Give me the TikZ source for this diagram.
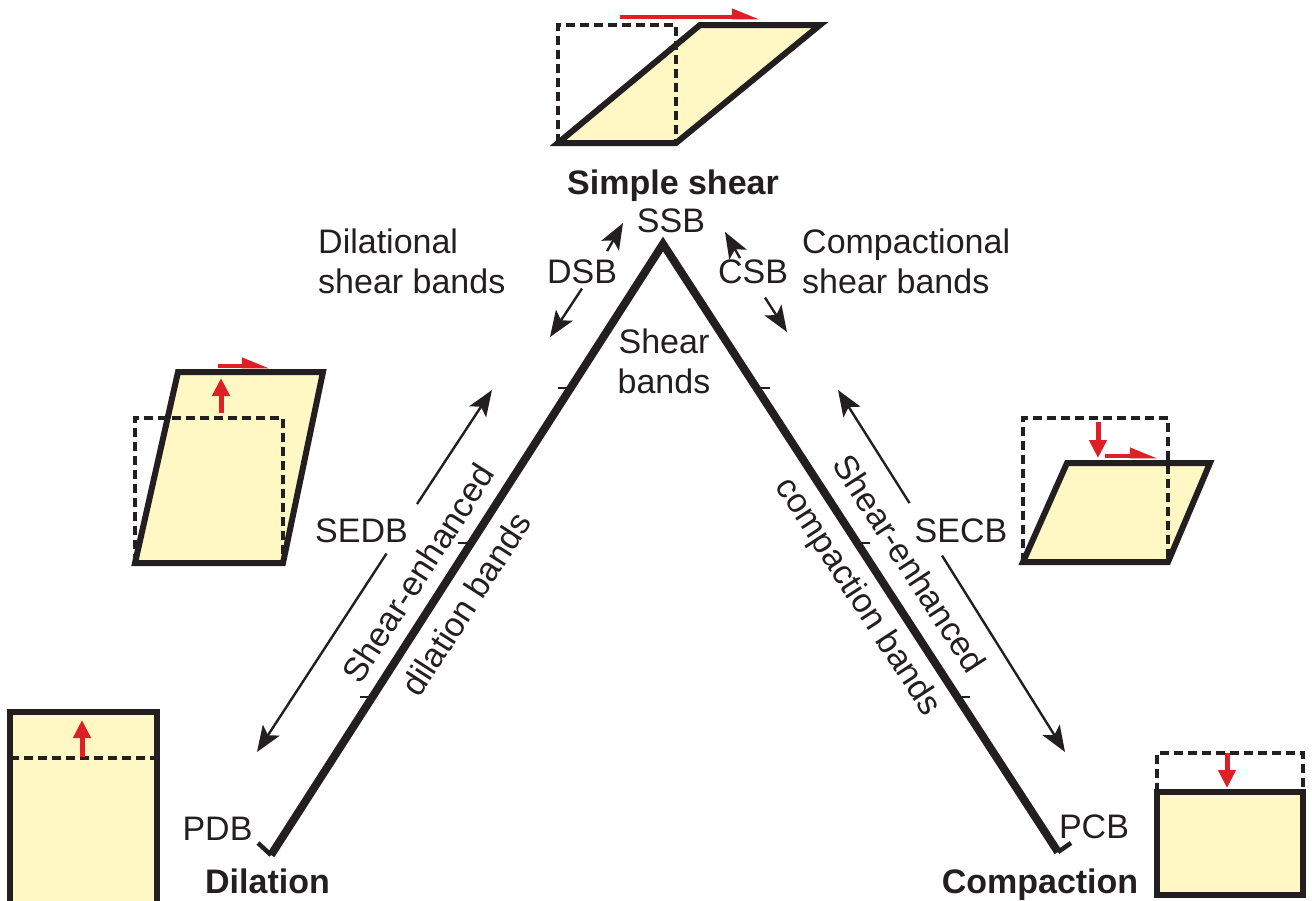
\documentclass[tikz,border=0pt]{standalone}
\usepackage{fontspec}
\setmainfont{Liberation Sans}
\usetikzlibrary{arrows.meta,calc}
\definecolor{ink}{RGB}{35,31,32}
\definecolor{fillyel}{RGB}{255,248,196}
\definecolor{redarr}{RGB}{222,32,38}
\begin{document}
\begin{tikzpicture}[x=1pt,y=-1pt,
  font=\fontsize{34}{40}\selectfont,
  lbl/.style={inner sep=0pt, text=ink, anchor=base},
  blbl/.style={lbl, font=\fontsize{34}{40}\selectfont\bfseries},
  vleg/.style={draw=ink, line width=8pt, line join=miter},
  hook/.style={draw=ink, line width=4.5pt},
  tickmark/.style={draw=ink, line width=1.5pt},
  thinarr/.style={draw=ink, line width=2.4pt, -{Stealth[length=26pt,width=20pt,inset=6pt]}},
  solidshape/.style={draw=ink, line width=6pt, line join=miter},
  dashedrect/.style={draw=ink, line width=3.6pt, dash pattern=on 9pt off 5pt},
  redv/.style={draw=redarr, line width=5pt, -{Triangle[length=18pt,width=17pt]}},
  redharp/.style={draw=redarr, line width=4.5pt, -{Triangle[harpoon,length=22pt,width=16pt]}}]
\clip (0,0) rectangle (1312,900);
\fill[white] (0,0) rectangle (1312,900);

% main V
\coordinate (apex) at (663,244);
\coordinate (lb) at (271,855);
\coordinate (rb) at (1058,852);
\coordinate (lh) at (258,843);
\coordinate (rh) at (1071,843);
\draw[vleg] (lb) -- (apex) -- (rb);
\draw[hook] (lb) -- (lh);
\draw[hook] (rb) -- (rh);
\foreach \t in {0.2357,0.489,0.741} \draw[tickmark] ($(apex)!\t!(lb)$) -- ++(-13,0);
\foreach \t in {0.2368,0.492,0.745} \draw[tickmark] ($(apex)!\t!(rb)$) -- ++(13,0);

% labels
\node[blbl] (ss) at (673,194) {Simple shear};
\node[lbl] (ssb) at (671,232) {SSB};
\node[lbl] (dsb) at (582,283) {DSB};
\node[lbl] (csb) at (753,283) {CSB};
\node[lbl, anchor=base west, align=left] (dil) at (318,293) {Dilational\\shear bands};
\node[lbl, anchor=base west, align=left] (comp) at (802,293) {Compactional\\shear bands};
\node[lbl, align=center] (sb) at (664,393) {Shear\\bands};
\node[lbl] (sedb) at (361.5,542) {SEDB};
\node[lbl] (secb) at (961,542) {SECB};
\node[lbl] (pdb) at (217.5,840) {PDB};
\node[lbl] (pcb) at (1094,838) {PCB};
\node[blbl] (dl) at (267.5,893) {Dilation};
\node[blbl] (cp) at (1040,893) {Compaction};
\node[lbl, anchor=center, rotate=57.3, align=center] (sedbt) at ($(apex)!0.564!(lb)$) {Shear-enhanced\\[17pt]dilation bands};
\node[lbl, anchor=center, rotate=-57.0, align=center] (secbt) at ($(apex)!0.555!(rb)$) {Shear-enhanced\\[19pt]compaction bands};

% arrows
\coordinate (dsbU) at (623,223);
\coordinate (dsbD) at (550,337);
\coordinate (csbU) at (725,232);
\coordinate (csbD) at (787,332);
\coordinate (sedbU) at (492,390);
\coordinate (sedbD) at (257,752);
\coordinate (secbU) at (838,390);
\coordinate (secbD) at (1065,752);
\draw[thinarr] ([shift={(-10,-8)}]dsb.north east) -- (dsbU);
\draw[thinarr] ([shift={(0,5)}]dsb.south) -- (dsbD);
\draw[thinarr] ([shift={(-13,-1)}]csb.north) -- (csbU);
\draw[thinarr] ([shift={(12,14)}]csb.south) -- (csbD);
\draw[thinarr] ([shift={(9,-14)}]sedb.north east) -- (sedbU);
\draw[thinarr] ([shift={(25,11)}]sedb.south) -- (sedbD);
\draw[thinarr] ([shift={(-5,-15)}]secb.north west) -- (secbU);
\draw[thinarr] ([shift={(-19,13)}]secb.south) -- (secbD);

% top: simple shear
\fill[fillyel] (558,143) -- (676,143) -- (820,25) -- (700,25) -- cycle;
\draw[dashedrect] (558,143) rectangle (676,25);
\draw[solidshape] (558,143) -- (676,143) -- (820,25) -- (700,25) -- cycle;
\draw[redharp] (620,17) -- (760,17);

% left: dilational shear
\fill[fillyel] (135,563) -- (283,563) -- (323,372) -- (178,372) -- cycle;
\draw[dashedrect] (135,563) rectangle (283,418);
\draw[solidshape] (135,563) -- (283,563) -- (323,372) -- (178,372) -- cycle;
\draw[redv] (221,413) -- (221,378);
\draw[redharp] (218,366) -- (270,366);

% right: compactional shear
\fill[fillyel] (1023,562) -- (1168,562) -- (1210,463) -- (1067,463) -- cycle;
\draw[dashedrect] (1023,562) rectangle (1168,418);
\draw[solidshape] (1023,562) -- (1168,562) -- (1210,463) -- (1067,463) -- cycle;
\draw[redv] (1098,422) -- (1098,458);
\draw[redharp] (1105,456) -- (1158,456);

% bottom-left: dilation
\draw[solidshape, fill=fillyel] (10,712) rectangle (157,912);
\draw[dashedrect] (10,758) -- (157,758);
\draw[redv] (82,757) -- (82,720);

% bottom-right: compaction
\draw[dashedrect] (1157,792) -- (1157,753) -- (1303,753) -- (1303,792);
\draw[solidshape, fill=fillyel] (1157,792) rectangle (1303,895);
\draw[redv] (1227,753) -- (1227,788);
\end{tikzpicture}
\end{document}
